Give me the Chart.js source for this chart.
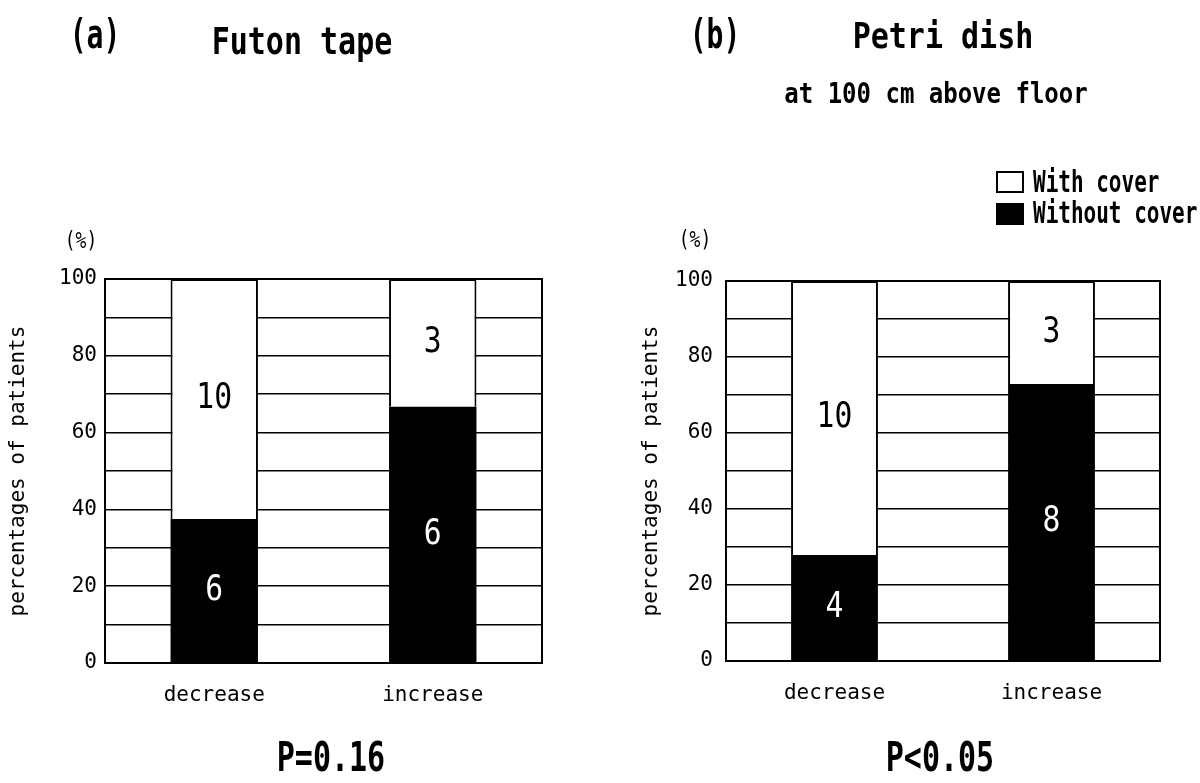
<!DOCTYPE html>
<html>
    <head>
        <title>Futon tape / Petri dish</title>
        <meta charset="UTF-8">
        <script src="https://cdn.jsdelivr.net/npm/chart.js@4.4.1/dist/chart.umd.min.js"></script>
        <style>
            body { margin: 0; background: #fff; }
            #page { position: relative; width: 1200px; height: 783px; overflow: hidden; }
            .panel { position: absolute; top: 0; width: 600px; height: 783px; }
            .txt {
                position: absolute; white-space: nowrap; line-height: 1; color: #000;
                font-family: "DejaVu Sans Mono", monospace;
            }
            .box { position: absolute; border: 2px solid #000; box-sizing: border-box; }
        </style>
    </head>
    <body>
        <div id="page">
            <div class="panel" style="left:0"><canvas id="chartA" width="600" height="783"></canvas></div>
            <div class="panel" style="left:600px"><canvas id="chartB" width="600" height="783"></canvas></div>

            <div class="box" style="left:996px; top:171px; width:28px; height:22px; background:#fff"></div>
            <div class="box" style="left:996px; top:203px; width:28px; height:22px; background:#000"></div>
        </div>

        <script>
            var categories = ['decrease', 'increase'];

            // (a) futon tape, % of patients
            var futonWithout = [37.5, 66.7];
            var futonWith = [62.5, 33.3];
            var futonWithoutN = [6, 6];
            var futonWithN = [10, 3];

            // (b) petri dish at 100 cm
            var petriWithout = [27.9, 72.9];
            var petriWith = [72.1, 27.1];
            var petriWithoutN = [4, 8];
            var petriWithN = [10, 3];

            var yLabelEvery = 20;
            var mono = 'DejaVu Sans Mono';

            // texts round the charts: [text, centre x, centre y, size, scaleY, bold]
            var texts = [
                ['(a)', 95, 35, 28, 1.45, true],
                ['Futon tape', 302, 41, 30, 1.27, true],
                ['(b)', 715, 35, 28, 1.45, true],
                ['Petri dish', 943, 36, 30, 1.2, true],
                ['at 100 cm above floor', 936, 93, 24, 1.2, true],
                ['(%)', 81, 240, 18, 1.25, false],
                ['(%)', 695, 239, 18, 1.25, false],
                ['P=0.16', 331, 757, 30, 1.37, true],
                ['P<0.05', 940, 757, 30, 1.37, true]
            ];
            var legendTexts = [['With cover', 182.5], ['Without cover', 214]];

            var page = document.getElementById('page');
            texts.forEach(function (t) {
                var d = document.createElement('div');
                d.className = 'txt';
                d.textContent = t[0];
                d.style.left = t[1] + 'px';
                d.style.top = t[2] + 'px';
                d.style.fontSize = t[3] + 'px';
                d.style.fontWeight = t[5] ? 'bold' : 'normal';
                d.style.transform = 'translate(-50%,-50%) scale(1,' + t[4] + ')';
                page.appendChild(d);
            });
            legendTexts.forEach(function (t) {
                var d = document.createElement('div');
                d.className = 'txt';
                d.textContent = t[0];
                d.style.left = '1033px';
                d.style.top = t[1] + 'px';
                d.style.fontSize = '21px';
                d.style.fontWeight = 'bold';
                d.style.transform = 'translate(0,-50%) scale(1,1.4)';
                d.style.transformOrigin = 'left center';
                page.appendChild(d);
            });

            // counts written in the middle of each segment
            var countLabels = {
                id: 'countLabels',
                afterDatasetsDraw: function (chart) {
                    var ctx = chart.ctx;
                    chart.data.datasets.forEach(function (ds, i) {
                        var meta = chart.getDatasetMeta(i);
                        meta.data.forEach(function (bar, j) {
                            var cy = (bar.y + bar.base) / 2;
                            ctx.save();
                            ctx.translate(bar.x, cy);
                            ctx.scale(1.1, 1.3);
                            ctx.font = '27px "' + mono + '"';
                            ctx.fillStyle = ds.labelColor;
                            ctx.textAlign = 'center';
                            ctx.textBaseline = 'middle';
                            ctx.fillText(String(ds.counts[j]), 0, 0);
                            ctx.restore();
                        });
                    });
                }
            };

            var frame = {
                id: 'frame',
                afterDatasetsDraw: function (chart) {
                    var a = chart.chartArea, ctx = chart.ctx;
                    ctx.save();
                    ctx.strokeStyle = '#000';
                    ctx.lineWidth = 2;
                    ctx.strokeRect(a.left, a.top, a.right - a.left, a.bottom - a.top);
                    ctx.restore();
                }
            };

            function makeChart(id, without, withC, withoutN, withN, s) {
                return new Chart(document.getElementById(id), {
                    type: 'bar',
                    data: {
                        labels: categories,
                        datasets: [
                            {
                                label: 'Without cover',
                                data: without,
                                counts: withoutN,
                                labelColor: '#fff',
                                backgroundColor: '#000',
                                borderColor: '#000',
                                borderWidth: 0
                            },
                            {
                                label: 'With cover',
                                data: withC,
                                counts: withN,
                                labelColor: '#000',
                                backgroundColor: '#fff',
                                borderColor: '#000',
                                borderWidth: 2
                            }
                        ]
                    },
                    options: {
                        responsive: false,
                        animation: false,
                        devicePixelRatio: 1,
                        categoryPercentage: 1,
                        barPercentage: 0.4,
                        layout: {padding: {left: 0, top: s.top, right: s.right, bottom: s.bottom}},
                        plugins: {legend: {display: false}, tooltip: {enabled: false}},
                        scales: {
                            x: {
                                stacked: true,
                                grid: {display: false},
                                border: {display: false},
                                ticks: {color: '#000', padding: 12, font: {family: mono, size: 21}},
                                afterFit: function (sc) { sc.height = 70; }
                            },
                            y: {
                                stacked: true,
                                min: 0,
                                max: 100,
                                grid: {color: '#000', lineWidth: 1.5, drawTicks: false},
                                border: {display: false},
                                ticks: {
                                    stepSize: 10,
                                    color: '#000',
                                    padding: s.tickPad,
                                    font: {family: mono, size: 21},
                                    callback: function (v) { return v % yLabelEvery === 0 ? v : ''; }
                                },
                                title: {
                                    display: true,
                                    text: 'percentages of patients',
                                    color: '#000',
                                    font: {family: mono, size: 21},
                                    padding: {top: s.titlePad, bottom: 0}
                                },
                                afterFit: function (sc) { sc.width = s.axisW; }
                            }
                        }
                    },
                    plugins: [countLabels, frame]
                });
            }

            makeChart('chartA', futonWithout, futonWith, futonWithoutN, futonWithN,
                {top: 279, right: 58, bottom: 50, axisW: 105, tickPad: 8, titlePad: 6});
            makeChart('chartB', petriWithout, petriWith, petriWithoutN, petriWithN,
                {top: 281, right: 40, bottom: 52, axisW: 126, tickPad: 13, titlePad: 39});
        </script>
    </body>
</html>
